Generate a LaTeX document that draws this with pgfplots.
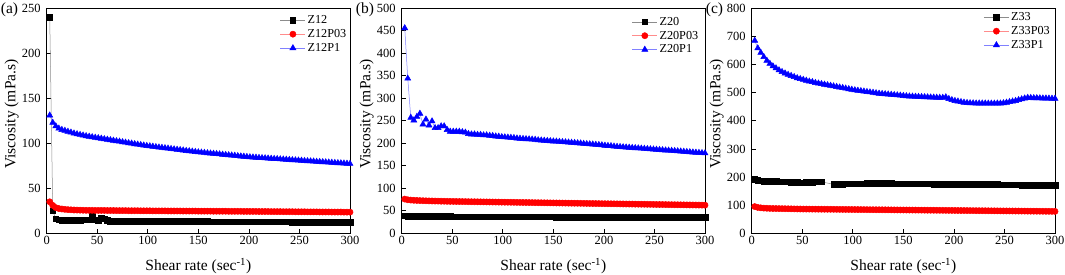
\documentclass[border=0pt]{standalone}
\usepackage{pgfplots}
\usepackage{pgfplotstable}
\pgfplotsset{compat=1.18}
\usepackage{fontspec}
\setmainfont{Liberation Serif}

\pgfplotstableread{
x z12 z12p03 z12p1
3 240 35 131
6 25 31 123
9 16 28.5 119
12 15 27.5 116.5
15 14 27 115
18 14.5 26.6 114
21 14 26.3 113
24 14.5 26.1 112
27 14 25.9 111
30 14.5 25.8 110.2
33 14.5 25.7 109.5
36 15 25.6 108.8
39 15 25.5 108.1
42 15 25.5 107.5
45 19 25.5 106.9
48 15 25.4 106.3
51 14.5 25.4 105.8
54 16.5 25.4 105.3
57 16 25.4 104.7
60 14.5 25.3 104.2
63 13.5 25.3 103.6
66 13.5 25.3 103.1
69 13.5 25.2 102.5
72 13.5 25.2 102.0
75 13.5 25.2 101.4
78 13.5 25.2 100.9
81 13.5 25.1 100.3
84 13.5 25.1 99.8
87 13.5 25.1 99.2
90 13.4 25.1 98.7
93 13.4 25.0 98.2
96 13.4 25.0 97.7
99 13.4 25.0 97.2
102 13.4 25.0 96.8
105 13.4 24.9 96.4
108 13.3 24.9 95.9
111 13.3 24.9 95.5
114 13.3 24.9 95.1
117 13.3 24.9 94.7
120 13.3 24.8 94.3
123 13.3 24.8 93.8
126 13.2 24.8 93.4
129 13.2 24.8 93.0
132 13.2 24.8 92.6
135 13.2 24.7 92.2
138 13.2 24.7 91.7
141 13.2 24.7 91.3
144 13.1 24.7 90.9
147 13.1 24.7 90.5
150 13.1 24.6 90.1
153 13.1 24.6 89.8
156 13.1 24.6 89.5
159 13.1 24.6 89.1
162 13.0 24.6 88.8
165 13.0 24.5 88.5
168 13.0 24.5 88.2
171 13.0 24.5 87.9
174 13.0 24.5 87.5
177 13.0 24.5 87.2
180 12.9 24.4 86.9
183 12.9 24.4 86.6
186 12.9 24.4 86.3
189 12.9 24.4 85.9
192 12.9 24.4 85.6
195 12.9 24.3 85.3
198 12.9 24.3 85.0
201 12.8 24.3 84.6
204 12.8 24.3 84.4
207 12.8 24.3 84.2
210 12.8 24.2 83.9
213 12.8 24.2 83.7
216 12.8 24.2 83.5
219 12.8 24.2 83.3
222 12.7 24.1 83.0
225 12.7 24.1 82.8
228 12.7 24.1 82.6
231 12.7 24.1 82.3
234 12.7 24.0 82.1
237 12.7 24.0 81.9
240 12.7 24.0 81.7
243 12.6 24.0 81.4
246 12.6 23.9 81.2
249 12.6 23.9 81.0
252 12.6 23.9 80.8
255 12.6 23.9 80.5
258 12.6 23.8 80.3
261 12.6 23.8 80.1
264 12.5 23.8 79.9
267 12.5 23.8 79.6
270 12.5 23.7 79.4
273 12.5 23.7 79.2
276 12.5 23.7 79.0
279 12.5 23.7 78.8
282 12.5 23.6 78.5
285 12.5 23.6 78.3
288 12.4 23.6 78.1
291 12.4 23.6 77.9
294 12.4 23.5 77.7
297 12.4 23.5 77.5
300 12.4 23.5 77.3
}\tableA

\pgfplotstableread{
x z20 z20p03 z20p1
3 39 76 456
6 38.5 74.5 344
9 38.2 73.8 257
12 38 73.3 251
15 37.9 73 259
18 37.8 72.7 266
21 37.7 72.4 242
24 37.6 72.2 253
27 37.6 72 240
30 37.5 71.8 249
33 37.5 71.6 234
36 37.4 71.5 234
39 37.4 71.3 238
42 37.3 71.2 238
45 37.3 71.0 230
48 37.3 70.9 226
51 37.2 70.8 226
54 37.2 70.7 226
57 37.2 70.6 226
60 37.1 70.5 225
63 37.1 70.4 224
66 37.1 70.3 221
69 37.0 70.2 220
72 37.0 70.1 220
75 37.0 70.0 219
78 37.0 69.9 219
81 36.9 69.8 218
84 36.9 69.7 218
87 36.9 69.6 217
90 36.9 69.5 216.5
93 36.8 69.4 215.5
96 36.8 69.3 215
99 36.8 69.2 214
102 36.8 69.1 213.5
105 36.7 69.0 213
108 36.7 68.9 212.5
111 36.7 68.8 212
114 36.7 68.7 211
117 36.6 68.6 210.5
120 36.6 68.5 210
123 36.6 68.4 209.5
126 36.6 68.3 209
129 36.5 68.2 208.5
132 36.5 68.1 208
135 36.5 68.0 207
138 36.5 67.9 206.5
141 36.4 67.8 206
144 36.4 67.7 205.5
147 36.4 67.6 205
150 36.4 67.5 204.5
153 36.3 67.4 204
156 36.3 67.3 203.5
159 36.3 67.2 203
162 36.3 67.1 202.5
165 36.2 67.0 202
168 36.2 66.9 201.5
171 36.2 66.8 201
174 36.2 66.7 200.5
177 36.1 66.6 200
180 36.1 66.5 199
183 36.1 66.4 198.5
186 36.1 66.3 198
189 36.0 66.2 197.5
192 36.0 66.1 197
195 36.0 66.0 196.5
198 36.0 65.9 196
201 35.9 65.8 195
204 35.9 65.7 194.5
207 35.9 65.6 194
210 35.9 65.5 193
213 35.8 65.4 192.5
216 35.8 65.3 192
219 35.8 65.2 191.5
222 35.8 65.1 191
225 35.7 65.0 190.5
228 35.7 64.9 190
231 35.7 64.8 189.5
234 35.7 64.7 189
237 35.6 64.6 188.5
240 35.6 64.5 188
243 35.6 64.4 187.5
246 35.6 64.3 187
249 35.5 64.2 186.5
252 35.5 64.1 186
255 35.5 64.0 185.5
258 35.5 63.9 185
261 35.4 63.8 184.5
264 35.4 63.7 184
267 35.4 63.6 183.5
270 35.4 63.5 183
273 35.3 63.4 182.5
276 35.3 63.3 182
279 35.3 63.2 181.5
282 35.3 63.1 181
285 35.2 63.0 180.5
288 35.2 62.9 180
291 35.2 62.8 179.5
294 35.2 62.7 179
297 35.1 62.6 178.5
300 35.1 62.5 178
}\tableB

\pgfplotstableread{
x z33
3 192
6 189
9 187
12 186
15 185
18 184.5
21 184
24 184
27 183.5
30 183.5
33 183
36 183
39 182.5
42 182.5
45 182
48 180
54 182
57 182.5
60 182.5
63 183
66 183
69 183
81 174
84 174.5
87 175
90 175
93 175.5
96 175.5
99 176
102 176
105 176.5
108 176.5
111 176.5
114 177
117 177
120 177
123 177
126 177
129 177
132 177
135 177
138 177
141 176.5
144 176.5
147 176.5
150 176.5
153 176
156 176
159 176
162 176
165 175.5
168 175.5
171 175.5
174 175.5
177 175.5
180 175
183 175
186 175
189 175
192 175
195 175
198 175
201 174.5
204 174.5
207 174.5
210 174.5
213 174.5
216 174.5
219 174
222 174
225 174
228 174
231 174
234 173.5
237 173.5
240 173.5
243 173.5
246 173
249 173
252 173
255 172.5
258 172.5
261 172
264 172
267 171.5
270 171.5
273 171
276 171
279 170.5
282 170.5
285 170.5
288 170.5
291 170.5
294 170.5
297 171
300 171
}\tableCa

\pgfplotstableread{
x z33p03 z33p1
3 95 685
6 92 658
9 90.5 642
12 89.5 627
15 89 614
18 88.5 603
21 88.2 594
24 88 587
27 87.8 580
30 87.6 574
33 87.4 569
36 87.2 564
39 87 560
42 86.8 556
45 86.6 552
48 86.4 549
51 86.2 546
54 86.1 543
57 86 540
60 85.9 538
63 85.8 535
66 85.7 533
69 85.6 531
72 85.5 529
75 85.4 527
78 85.3 525
81 85.2 523
84 85.1 521
87 85.0 519
90 84.9 517
93 84.8 515
96 84.7 513
99 84.6 511
102 84.5 509
105 84.4 507.5
108 84.3 506
111 84.2 504.5
114 84.1 503
117 84.0 501.5
120 83.9 500
123 83.8 498.5
126 83.7 497
129 83.6 496
132 83.5 495
135 83.4 494
138 83.3 493
141 83.2 492
144 83.1 491
147 83.0 490
150 82.9 489
153 82.8 488
156 82.7 487
159 82.6 486.5
162 82.5 486
165 82.4 485.5
168 82.3 485
171 82.2 484.5
174 82.1 484
177 82.0 483.5
180 81.9 483
183 81.8 482.5
186 81.7 482
189 81.6 482
192 81.5 484
195 81.4 478
198 81.3 474
201 81.2 471
204 81.1 469
207 81.0 467
210 80.9 465
213 80.8 464
216 80.7 463
219 80.6 462.5
222 80.5 462
225 80.4 462
228 80.3 462
231 80.2 462
234 80.1 461.5
237 80.0 461.5
240 79.9 461.5
243 79.8 462
246 79.7 462
249 79.6 463
252 79.5 465
255 79.4 467
258 79.3 469
261 79.2 471
264 79.1 474
267 79.0 477
270 78.9 480
273 78.8 482
276 78.7 481.5
279 78.6 481
282 78.5 481
285 78.4 480.5
288 78.3 480
291 78.2 480
294 78.1 479.5
297 78.0 479
300 77.9 479
}\tableCb

\pgfplotsset{
  panel/.style={
    scale only axis, width=303.3pt, height=225pt, anchor=south west,
    xmin=0, xmax=300, xtick={0,50,...,300}, ymin=0,
    tick align=inside, tick pos=left, major tick length=4pt,
    axis line style={line width=0.8pt},
    every tick/.style={black, line width=0.7pt},
    tick label style={font=\fontsize{12.5}{14}\selectfont},
    xticklabel style={yshift=0.5pt},
    yticklabel style={xshift=-2.5pt},
    /pgf/number format/assume math mode=true,
    xlabel={Shear rate (sec\textsuperscript{-1})},
    ylabel={Viscosity (mPa.s)},
    every axis x label/.style={at={(axis description cs:0.5,0)}, anchor=base, yshift=-37.7pt, font=\fontsize{15.5}{17}\selectfont},
    every axis y label/.style={at={(axis description cs:-0.1154,0.53)}, rotate=90, anchor=center, font=\fontsize{15.5}{17}\selectfont},
    legend cell align=left,
    legend style={draw=none, fill=none, inner sep=0pt, font=\fontsize{12.2}{13}\selectfont, at={(1,1)}, anchor=north east, row sep=0.3pt},
    legend image code/.code={\draw[mark repeat=2,mark phase=2,##1] plot coordinates {(0pt,0pt) (12.5pt,0pt) (25pt,0pt)};},
  },
  blackS/.style={color=black!45, line width=0.5pt, mark=square*, mark size=2.8pt, mark options={draw=black, fill=black}},
  redS/.style={color=red!45, line width=0.5pt, mark=*, mark size=3.1pt, mark options={draw=red, fill=red}},
  blueS/.style={color=blue!50, line width=0.5pt, mark=triangle*, mark size=3.5pt, mark options={draw=blue, fill=blue}},
}

\begin{document}
\begin{tikzpicture}
\useasboundingbox (0,0) rectangle (1065pt,275pt);

\begin{axis}[panel, at={(46.7pt,41.7pt)}, ymax=250, ytick={0,50,...,250},
  legend style={xshift=-1.5pt, yshift=-5pt}]
\addplot[blackS] table[x=x, y=z12] {\tableA};
\addlegendentry{Z12}
\addplot[redS] table[x=x, y=z12p03] {\tableA};
\addlegendentry{Z12P03}
\addplot[blueS] table[x=x, y=z12p1] {\tableA};
\addlegendentry{Z12P1}
\end{axis}

\begin{axis}[panel, at={(401.7pt,41.7pt)}, ymax=500, ytick={0,50,...,500},
  legend style={xshift=-4.6pt, yshift=-6.5pt}]
\addplot[blackS] table[x=x, y=z20] {\tableB};
\addlegendentry{Z20}
\addplot[redS] table[x=x, y=z20p03] {\tableB};
\addlegendentry{Z20P03}
\addplot[blueS] table[x=x, y=z20p1] {\tableB};
\addlegendentry{Z20P1}
\end{axis}

\begin{axis}[panel, at={(751.7pt,41.7pt)}, ymax=800, ytick={0,100,...,800},
  legend style={xshift=-3pt, yshift=-2pt}]
\addplot[blackS] table[x=x, y=z33] {\tableCa};
\addlegendentry{Z33}
\addplot[redS] table[x=x, y=z33p03] {\tableCb};
\addlegendentry{Z33P03}
\addplot[blueS] table[x=x, y=z33p1] {\tableCb};
\addlegendentry{Z33P1}
\end{axis}

\node[anchor=west, inner sep=0pt, font=\fontsize{15.5}{17}\selectfont] at (0.7pt,265pt) {(a)};
\node[anchor=west, inner sep=0pt, font=\fontsize{15.5}{17}\selectfont] at (355.7pt,265pt) {(b)};
\node[anchor=west, inner sep=0pt, font=\fontsize{15.5}{17}\selectfont] at (705.7pt,265pt) {(c)};
\end{tikzpicture}
\end{document}
